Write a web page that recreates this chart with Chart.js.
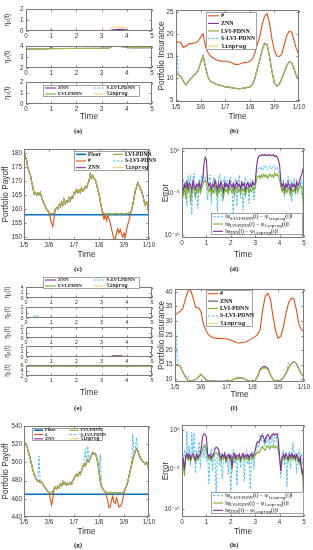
<!DOCTYPE html>
<html><head><meta charset="utf-8">
<script src="https://cdn.jsdelivr.net/npm/chart.js@4.4.1/dist/chart.umd.min.js"></script>
<style>
html,body{margin:0;padding:0;background:#fff;}
#fig{position:relative;width:313px;height:550px;overflow:hidden;background:#fff;}
#fig canvas{position:absolute;}
.cap{position:absolute;font:bold 7px "Liberation Serif",serif;color:#222;transform:translateX(-50%);white-space:nowrap;}
</style></head><body><div id="fig"></div>
<script>
// ---------------- DATA ----------------
const etaXTicks = [0,1,2,3,4,5];
const etaXLabels = ['0','1','2','3','4','5'];
const dateTicks = [0,1,2,3,4,5];
const dateLabels = ['1/5','3/6','1/7','1/8','3/9','1/10'];
const errTicks = [1e-10,1e-5,1];
const errLabels = ['10\u207B\u00B9\u2070','10\u207B\u2075','10\u2070'];

// sampling grids (time positions)
const tStep10 = Array.from({length:51},(_,i)=>i/10);
const tStep20 = Array.from({length:101},(_,i)=>i/20);

// (a) eta panels: [times, values]
const a1Znn_t=[0,0.9,1.0,1.1,3.3,3.45,3.7,3.95,4.05,5], a1Znn_v=[0,0,0.1,0,0,0.12,0.15,0.12,0,0];
const a1Lvi_t=[0,0.02,5], a1Lvi_v=[1.9,0,0];
const a1Slvi_t=[0,0.02,5], a1Slvi_v=[2.0,0,0];
const a1Lin_t=[0,3.3,3.4,3.5,3.8,3.95,4.05,5], a1Lin_v=[0,0,0.3,0.38,0.35,0.3,0,0];
const a2Znn_t=[0,0.9,1.0,1.1,3.0,3.3,3.4,3.7,4.0,4.1,5], a2Znn_v=[3.72,3.76,3.86,3.77,3.8,3.82,3.95,3.98,3.9,3.84,3.85];
const a2Lvi_t=[0,1.0,3.0,3.3,3.4,3.7,4.0,4.1,5], a2Lvi_v=[3.72,3.76,3.8,3.82,3.95,3.97,3.9,3.84,3.85];
const a2Lin_v=[3.72,3.76,3.8,3.82,3.97,3.99,3.92,3.84,3.85];
const a3Zero_t=[0,5], a3Zero_v=[0,0];
const a3Slvi_t=[0,0.02,5], a3Slvi_v=[0.5,0,0];

// (e) eta panels
const e1Lvi_t=[0,0.02,5], e1Lvi_v=[3.5,0,0];
const e1Slvi_t=[0,0.02,5], e1Slvi_v=[4,0,0];
const e2Znn_t=[0,0.9,1.0,1.1,5], e2Znn_v=[0,0,0.2,0,0];
const e2Slvi_t=[0,0.02,0.3,0.35,0.4,0.45,0.5,0.55,5], e2Slvi_v=[1.5,0,0,0.5,0.1,0.6,0.1,0,0];
const e3Slvi_t=[0,0.02,5], e3Slvi_v=[2,0,0];
const e4Znn_t=[0,3.35,3.45,3.8,3.9,5], e4Znn_v=[0,0,0.25,0.25,0,0];
const e4Lin_v=[0,0,0.2,0.2,0,0];
const e4Slvi_t=[0,0.02,2.5,2.55,2.6,3.0,3.05,3.1,4.3,4.35,4.4,5], e4Slvi_v=[1.5,0,0,0.15,0,0,0.12,0,0,0.15,0,0];
const e5Znn_t=[0,0.9,1.0,1.1,5], e5Znn_v=[5.6,5.6,5.75,5.6,5.6];
const e5Flat_t=[0,5], e5Flat_v=[5.6,5.6];

// (b) portfolio insurance
const insB_hash=[18.1,18.2,18.0,16.9,17.2,17.7,17.8,17.9,18.0,18.4,19.2,20.0,17.2,15.8,15.0,14.6,14.2,14.0,13.9,13.8,13.8,13.8,13.6,13.4,13.1,13.1,13.2,13.4,13.5,13.6,13.8,14.3,15.6,17.5,19.3,22.0,24.0,24.6,22.5,18.8,16.3,15.0,14.9,15.4,17.6,19.6,20.6,20.4,18.5,16.5,15.3];
const insB_lvi=[11.2,10.8,10.3,9.3,8.5,9.2,9.9,10.5,11.0,11.7,13.5,15.0,12.5,10.2,9.3,9.0,8.7,8.5,8.4,8.2,8.0,8.0,7.9,7.8,7.7,7.6,7.6,7.7,7.8,7.9,8.0,8.5,9.8,12.0,14.0,16.3,17.9,17.6,15.0,11.5,8.9,8.2,8.6,9.9,11.3,12.8,13.7,13.5,12.0,10.4,9.6];
const insB_slvi=[18.0].concat(insB_lvi.slice(1));

// (f) portfolio insurance
const insF_hash=[32.0,32.7,33.4,34.2,37.5,40.2,40.8,38.0,34.6,34.5,33.5,29.0,26.8,25.2,24.6,24.2,24.0,24.0,24.0,23.9,23.8,23.6,23.3,22.9,22.5,22.4,22.6,22.7,23.0,23.5,24.0,24.6,25.3,27.0,34.0,38.6,39.5,37.5,31.5,26.5,24.0,24.8,28.0,32.5,36.2,37.7,37.8,34.0,29.0,27.0,26.3];
const insF_lvi=[15.0,14.8,14.5,12.5,10.8,9.6,9.4,9.5,9.9,10.6,11.6,10.8,9.8,9.4,9.3,9.3,9.2,9.2,9.2,9.2,9.3,9.4,9.6,10.0,10.3,10.4,10.3,10.0,9.6,9.3,9.2,9.4,11.0,13.0,13.8,13.9,13.3,11.5,9.8,9.3,9.3,9.6,10.5,12.0,13.8,15.3,16.0,15.4,13.5,11.8,10.8];
const insF_znn=[15.0,14.8,14.5,12.5,10.8,9.6,9.4,9.5,9.9,10.6,11.6,10.8,9.8,9.4,9.3,9.3,9.2,9.2,9.2,9.2,9.3,9.4,9.6,10.0,10.3,10.4,10.3,10.0,9.6,9.3,9.2,9.4,11.0,13.4,14.2,14.3,13.7,11.5,9.8,9.3,9.3,9.6,10.5,12.0,13.8,15.3,16.0,15.4,13.5,11.8,10.8];
const insF_slvi=[32.0,14.8,14.5,12.5,10.8,11.2,9.4,9.5,9.9,10.6,11.6,10.8,9.8,9.4,9.3,9.3,9.2,9.2,9.2,9.2,9.3,9.4,9.6,10.0,10.8,10.4,10.9,10.0,9.6,9.3,9.2,9.4,11.0,13.0,13.8,13.9,13.3,11.5,9.8,9.3,9.3,9.6,10.5,12.0,15.6,15.3,16.0,15.4,13.5,11.8,10.8];

// (c) portfolio payoff
const floorC = [158,158], floorT=[0,5];
const payC_lvi=[178.5,179.0,177.5,175.0,173.5,172.5,170.0,168.0,165.5,166.0,
 165.0,165.8,165.2,166.0,164.5,163.0,162.0,161.0,160.0,159.5,
 158.8,158.5,158.4,158.4,158.6,160.0,160.5,160.0,161.5,160.8,
 162.5,161.5,163.5,162.0,163.0,162.5,164.0,163.0,164.5,164.0,
 166.0,165.5,167.0,166.0,166.8,166.0,167.5,166.5,167.0,168.0,
 167.5,169.0,170.0,172.5,171.0,172.0,171.0,170.5,169.0,167.0,
 165.5,163.0,160.5,158.8,158.4,158.3,158.4,158.3,158.5,158.4,
 158.3,158.4,158.3,158.5,158.4,158.3,158.4,158.3,158.5,158.4,
 158.3,158.4,158.5,158.4,158.6,158.8,159.5,161.5,164.0,166.5,
 168.0,169.5,168.5,167.5,166.5,165.0,163.0,161.5,162.5,161.5,158.0];
const payC_hash=[178.5,179.0,177.5,175.0,173.5,172.5,170.0,168.0,165.5,166.0,
 165.0,165.8,165.2,166.0,164.5,163.0,162.0,161.0,160.0,159.5,
 158.8,157.0,155.0,153.8,156.5,160.0,160.5,160.0,161.5,160.8,
 162.5,161.5,163.5,162.0,163.0,162.5,164.0,163.0,164.5,164.0,
 166.0,165.5,167.0,166.0,166.8,166.0,167.5,166.5,167.0,168.0,
 167.5,169.0,170.0,172.5,171.0,172.0,171.0,170.5,169.0,167.0,
 165.5,163.0,160.5,158.0,156.5,158.0,156.0,157.8,156.5,155.0,
 153.0,151.0,149.5,149.0,151.5,153.0,151.5,152.8,151.0,150.0,
 151.5,150.0,152.5,154.5,156.0,158.0,159.5,161.5,164.0,166.5,
 168.0,169.5,168.5,167.5,166.5,165.0,163.0,161.5,162.5,161.5,158.0];
const payC_slvi=[181.5].concat(payC_lvi.slice(1));

// (g) portfolio payoff
const floorG = [465,465];
const payG_lvi=[520,521,519,514,509,504,498,492,487,484,
 481,479,480,478,479,476,474,472,470,468,
 467,466,466,468,471,473,471,474,472,476,
 474,479,476,478,475,477,476,478,476,480,
 482,485,487,485,489,487,491,495,498,496,
 500,503,501,505,508,511,509,510,506,500,
 490,480,474,471,469,468,467,466,467,466,
 467,466,467,466,467,466,467,466,467,467,
 468,471,474,479,485,491,497,503,508,512,
 515,513,509,505,503,501,500,498,500,497,491];
const payG_hash=[520,521,519,514,509,504,498,492,487,484,
 481,479,480,478,479,476,474,472,470,468,
 467,460,453,459,471,473,471,474,472,476,
 474,479,476,478,475,477,476,478,476,480,
 482,485,487,485,489,487,491,495,498,496,
 500,503,501,505,508,511,509,510,506,500,
 490,480,474,471,469,468,463,458,450,451,
 458,463,456,455,461,457,451,452,454,460,
 466,471,474,479,485,491,497,503,508,512,
 515,513,509,505,503,501,500,498,500,497,491];
const payG_slvi=[524,521,519,514,509,504,498,492,487,484,
 481,479,507,478,479,476,474,472,470,468,
 467,466,466,468,471,473,471,474,472,476,
 474,479,476,478,475,477,476,478,476,480,
 482,485,487,485,489,487,491,495,498,515,
 500,518,501,505,508,511,509,510,506,500,
 490,509,474,471,469,468,467,466,467,466,
 467,466,467,466,467,466,467,466,467,467,
 468,471,474,479,485,491,497,531,508,512,
 527,513,509,505,503,501,500,498,500,497,491];

// (d) errors, log10 exponents
const dZnnE=[-4.2,-4.6,-3.9,-4.3,-3.6,-4.4,-3.8,-4.0,-4.7,-3.5,
 -4.1,-4.5,-3.9,-4.2,-3.7,-4.4,-3.9,-3.3,-1.5,-0.7,
 -1.0,-3.6,-4.1,-3.8,-4.5,-3.9,-4.2,-3.4,-4.0,-4.6,
 -3.8,-4.3,-3.6,-4.1,-4.8,-3.7,-4.2,-3.9,-4.4,-3.5,
 -4.0,-4.3,-3.8,-4.5,-4.0,-3.6,-4.2,-3.9,-4.4,-3.7,
 -4.1,-3.8,-4.6,-4.0,-3.7,-4.3,-3.9,-4.2,-3.6,-4.0,
 -3.8,-2.0,-0.9,-0.6,-0.5,-0.5,-0.4,-0.5,-0.4,-0.5,
 -0.4,-0.5,-0.4,-0.5,-0.5,-0.4,-0.6,-0.5,-0.7,-1.0,
 -1.6,-3.6,-4.2,-3.8,-4.5,-3.9,-4.3,-3.7,-4.1,-4.6,
 -3.8,-4.2,-3.9,-4.5,-3.6,-4.1,-3.8,-3.2,-2.8,-2.2,-1.8];
const dLviE=[-4.5,-5.2,-4.2,-5.6,-4.0,-4.8,-4.3,-5.9,-4.9,-4.1,
 -4.6,-5.4,-4.4,-4.8,-4.2,-5.0,-4.5,-4.0,-3.6,-3.4,
 -3.8,-4.4,-4.8,-4.3,-5.1,-4.5,-4.9,-4.0,-4.6,-5.3,
 -4.4,-4.9,-4.2,-4.7,-5.5,-4.3,-4.8,-4.5,-5.0,-4.2,
 -4.6,-4.9,-4.4,-5.2,-4.6,-4.2,-4.8,-4.5,-5.0,-4.3,
 -4.7,-4.4,-5.3,-4.6,-4.3,-4.9,-4.5,-4.8,-4.2,-4.6,
 -4.4,-3.4,-3.0,-2.9,-3.2,-2.8,-3.1,-2.7,-3.0,-2.8,
 -3.2,-2.9,-2.7,-3.0,-2.8,-3.1,-2.6,-2.9,-2.7,-3.0,
 -3.3,-4.2,-4.8,-4.4,-5.1,-4.5,-4.9,-4.3,-4.7,-5.2,
 -4.4,-4.8,-4.5,-5.0,-4.2,-4.7,-4.4,-4.0,-4.3,-5.5,-10.0];
const dSlviE=[-4.0,-3.2,-4.8,-3.5,-6.5,-3.0,-4.2,-2.8,-7.5,-3.6,
 -2.6,-5.5,-3.8,-6.8,-3.3,-4.5,-2.9,-3.7,-2.7,-3.0,
 -4.0,-5.8,-3.4,-2.8,-6.2,-3.9,-3.1,-5.0,-3.6,-7.2,
 -3.3,-2.7,-4.6,-6.0,-3.5,-3.0,-4.3,-3.4,-5.2,-3.8,
 -3.1,-4.5,-7.8,-4.0,-3.2,-6.5,-3.7,-2.8,-5.5,-3.4,
 -7.0,-3.9,-3.1,-4.8,-3.6,-6.2,-3.3,-4.1,-3.5,-5.8,
 -3.6,-2.6,-2.2,-1.9,-2.1,-1.8,-2.3,-1.7,-2.0,-1.8,
 -2.2,-1.9,-1.7,-2.1,-1.8,-2.0,-1.7,-2.2,-1.9,-2.4,
 -2.8,-3.8,-4.6,-3.3,-5.4,-3.7,-4.2,-3.0,-4.9,-3.5,
 -6.0,-3.8,-3.2,-4.4,-3.6,-5.1,-3.4,-4.0,-3.3,-4.7,-3.9];

// (h) errors, log10 exponents
const hZnnE=[-3.2,-3.6,-5.0,-3.3,-3.0,-3.5,-3.1,-3.7,-3.2,-3.0,
 -3.4,-3.8,-3.1,-3.5,-3.2,-3.0,-2.0,-0.8,-0.5,-0.6,
 -0.9,-3.0,-3.4,-3.1,-3.6,-3.2,-3.0,-2.4,-2.2,-2.3,
 -2.5,-3.2,-3.6,-3.1,-3.4,-3.0,-3.8,-3.3,-3.1,-3.5,
 -3.2,-4.8,-3.3,-3.0,-3.6,-3.2,-3.4,-3.1,-3.7,-3.3,
 -3.0,-3.5,-3.2,-3.4,-3.1,-3.6,-3.2,-3.0,-3.4,-3.1,
 -2.6,-1.8,-1.5,-1.6,-1.3,-0.8,-0.7,-1.0,-1.6,-0.9,
 -0.6,-0.7,-1.2,-0.8,-0.6,-0.5,-0.7,-0.6,-0.5,-1.4,
 -3.4,-5.2,-3.6,-3.1,-3.5,-3.0,-3.3,-3.7,-3.1,-3.4,
 -3.0,-3.5,-3.2,-3.6,-3.1,-3.4,-4.0,-3.5,-5.0,-5.6,-3.8];
const hLviE=[-3.5,-4.0,-5.8,-3.6,-3.4,-3.8,-3.4,-4.0,-3.5,-3.3,
 -3.7,-4.1,-3.4,-3.8,-3.5,-3.3,-3.0,-2.3,-2.0,-2.1,
 -2.4,-3.4,-3.7,-3.4,-3.9,-3.5,-3.3,-3.0,-2.9,-3.0,
 -3.1,-3.5,-3.9,-3.4,-3.7,-3.3,-4.1,-3.6,-3.4,-3.8,
 -3.5,-5.0,-3.6,-3.3,-3.9,-3.5,-3.7,-3.4,-4.0,-3.6,
 -3.3,-3.8,-3.5,-3.7,-3.4,-3.9,-3.5,-3.3,-3.7,-3.4,
 -3.2,-3.0,-2.8,-2.9,-2.7,-2.3,-2.1,-2.4,-2.6,-2.2,
 -2.0,-2.2,-2.4,-2.1,-2.2,-2.0,-2.3,-2.1,-2.2,-2.6,
 -3.6,-5.0,-3.9,-3.4,-3.8,-3.3,-3.6,-4.0,-3.4,-3.7,
 -3.3,-3.8,-3.5,-3.9,-3.4,-3.7,-4.3,-3.8,-5.3,-6.0,-10.0];
const hSlviE=[-3.0,-4.2,-2.5,-3.8,-0.2,-3.5,-2.0,-4.5,-0.3,-3.2,
 -0.4,-5.5,-2.6,-3.9,-1.5,-4.8,-3.0,-2.2,-3.6,-1.8,
 -4.0,-2.9,-6.8,-3.3,-2.4,-5.2,-3.1,-3.8,-8.0,-3.4,
 -2.7,-4.6,-3.0,-6.2,-3.5,-2.8,-4.1,-3.2,-5.6,-3.0,
 -8.2,-3.7,-2.5,-4.3,-3.1,-7.0,-3.6,-2.9,-4.8,-3.3,
 -3.0,-6.5,-3.5,-2.6,-4.4,-3.2,-7.5,-3.4,-2.8,-5.0,
 -3.1,-2.4,-1.9,-2.2,-0.6,-1.4,-0.4,-1.8,-2.0,-0.8,
 -1.6,-1.2,-2.1,-1.5,-0.7,-1.9,-1.3,-0.5,-1.7,-2.3,
 -3.5,-6.0,-3.2,-2.6,-4.5,-3.0,-7.2,-3.3,-2.7,-4.9,
 -3.1,-1.6,-3.6,-2.9,-5.4,-3.2,-2.5,-3.9,-3.0,-4.4,-3.3];

// ---------------- RENDERING ----------------
const SANS='"Liberation Sans", Arial, "DejaVu Sans", sans-serif';
const SERIF='"Liberation Serif", "Times New Roman", serif';
const MONO='"Liberation Mono", "DejaVu Sans Mono", monospace';
const INK='#333';
const fig=document.getElementById('fig');
const STY={
 '#':{borderColor:'#D95319',borderWidth:1.1},
 'ZNN':{borderColor:'#7E2F8E',borderWidth:1.1},
 'LVI-PDNN':{borderColor:'#77AC30',borderWidth:1.1},
 'S-LVI-PDNN':{borderColor:'#4DBEEE',borderWidth:1,borderDash:[2.5,1.5]},
 'linprog':{borderColor:'rgba(237,177,32,0.65)',borderWidth:1},
 'Floor':{borderColor:'#0072BD',borderWidth:1.6}
};
function pts(ts,vs){return vs.map((v,i)=>({x:ts[i],y:v}));}
function ser(key,ts,vs,seg){
  return Object.assign({label:key,data:pts(ts,vs),pointRadius:0,fill:false,tension:0,
    seg:seg||(key==='linprog'?[{t:'linprog',mono:true}]:[{t:key}])},STY[key]);
}
const pow10=a=>a.map(e=>Math.pow(10,e));
function errSeg(name){return [{t:'\u2016\u03C6'},{t:name,sub:true},{t:'(t) \u2212 \u03C6'},{t:'linprog',sub:true,mono:true},{t:'(t)\u2016'}];}

const boxPlugin={id:'mbox',afterDatasetsDraw(ch){
  const ctx=ch.ctx,a=ch.chartArea;
  const L=Math.round(a.left)+0.5,R=Math.round(a.right)-0.5,T=Math.round(a.top)+0.5,B=Math.round(a.bottom)-0.5;
  ctx.save();ctx.strokeStyle='#7a7a7a';ctx.lineWidth=1;ctx.setLineDash([]);
  ctx.strokeRect(L,T,R-L,B-T);
  ctx.beginPath();
  const xs=ch.scales.x,ys=ch.scales.y;
  xs.ticks.forEach(t=>{const p=Math.round(xs.getPixelForValue(t.value))+0.5;ctx.moveTo(p,B);ctx.lineTo(p,B-2);ctx.moveTo(p,T);ctx.lineTo(p,T+2);});
  ys.ticks.forEach(t=>{const p=Math.round(ys.getPixelForValue(t.value))+0.5;ctx.moveTo(L,p);ctx.lineTo(L+2,p);ctx.moveTo(R,p);ctx.lineTo(R-2,p);});
  ctx.stroke();ctx.restore();
}};
const legPlugin={id:'mleg',afterDraw(ch,args,o){
  if(!o||o.w===undefined)return;
  const ctx=ch.ctx,x=o.x-o.ox,y=o.y-o.oy;
  ctx.save();
  ctx.fillStyle='#fff';ctx.fillRect(x,y,o.w,o.h);
  ctx.strokeStyle='#8c8c8c';ctx.lineWidth=0.8;ctx.strokeRect(x+0.5,y+0.5,o.w-1,o.h-1);
  const items=ch.data.datasets.filter(d=>d.label);
  const rows=o.rows,cols=Math.ceil(items.length/rows),cw=o.w/cols,rh=o.h/rows;
  items.forEach((d,i)=>{
    const ci=Math.floor(i/rows),r=i%rows;
    const ix=x+ci*cw+(o.pad||2),iy=y+(r+0.5)*rh;
    ctx.strokeStyle=d.borderColor;ctx.lineWidth=d.borderWidth;ctx.setLineDash(d.borderDash||[]);
    ctx.beginPath();ctx.moveTo(ix,iy);ctx.lineTo(ix+o.len,iy);ctx.stroke();ctx.setLineDash([]);
    let tx=ix+o.len+2;
    ctx.fillStyle='#111';ctx.textBaseline='middle';ctx.textAlign='left';
    d.seg.forEach(s=>{
      const fs=s.sub?o.fs*0.72:o.fs;
      ctx.font=(o.bold?'bold ':'')+fs+'px '+(s.mono?MONO:SERIF);
      ctx.fillText(s.t,tx,iy+(s.sub?fs*0.45:0));
      tx+=ctx.measureText(s.t).width;
    });
  });
  ctx.restore();
}};

function mk(c){
  const W=c.cr-c.cl,H=c.cb-c.ct;
  const cv=document.createElement('canvas');
  cv.width=W;cv.height=H;
  Object.assign(cv.style,{left:c.cl+'px',top:c.ct+'px',width:W+'px',height:H+'px'});
  fig.appendChild(cv);
  const lw=c.L-c.cl,bh=c.cb-c.B,pt=c.T-c.ct,pr=c.cr-c.R;
  c.ds.forEach((d,i)=>{d.order=c.ds.length-i;});
  const tf={family:SANS,size:c.tfs||6.3};
  const zeroPad=s=>{s.paddingLeft=0;s.paddingRight=0;s.paddingTop=0;s.paddingBottom=0;};
  new Chart(cv,{type:'line',data:{datasets:c.ds},options:{
    responsive:false,animation:false,devicePixelRatio:1,
    layout:{padding:{left:0,top:pt,right:pr,bottom:0}},
    plugins:{legend:{display:false},tooltip:{enabled:false},
      mleg:c.leg?Object.assign({ox:c.cl,oy:c.ct},c.leg):false},
    scales:{
      x:{type:'linear',min:0,max:5,
        grid:{display:false,drawTicks:false},border:{display:false},
        ticks:{font:tf,color:INK,padding:c.xpad===undefined?1.5:c.xpad,maxRotation:0,autoSkip:false,callback:(v,i)=>c.xl[i]},
        afterBuildTicks:s=>{s.ticks=c.xt.map(v=>({value:v}));},
        afterFit:s=>{s.height=bh;zeroPad(s);},
        title:{display:!!c.xtitle,text:c.xtitle||'',font:{family:SANS,size:8.3},color:INK,padding:0}},
      y:{type:c.log?'logarithmic':'linear',min:c.ymin,max:c.ymax,
        grid:{display:false,drawTicks:false},border:{display:false},
        ticks:{font:tf,color:INK,padding:c.ypad===undefined?2.5:c.ypad,autoSkip:false,callback:(v,i)=>c.yl?c.yl[i]:String(v)},
        afterBuildTicks:s=>{s.ticks=c.yt.map(v=>({value:v}));},
        afterFit:s=>{s.width=lw;zeroPad(s);},
        title:{display:true,text:c.ytitle,font:{family:SANS,size:c.ytfs||8.3},color:INK,padding:{top:c.ytp||0,bottom:0}}}
    }},plugins:[boxPlugin,legPlugin]});
}
function cap(txt,x,y){const d=document.createElement('div');d.className='cap';d.textContent=txt;d.style.left=x+'px';d.style.top=(y-4)+'px';fig.appendChild(d);}

// ----- (a) -----
const etaCommon={cl:0,cr:157,L:26,R:152,xt:etaXTicks,xl:etaXLabels,tfs:6.3,ytfs:7,ytp:3};
mk(Object.assign({},etaCommon,{ct:3,cb:38,T:9,B:31,ymin:0,ymax:2,yt:[0,1,2],ytitle:'\u03B7\u2081(t)',
  ds:[ser('ZNN',a1Znn_t,a1Znn_v),ser('LVI-PDNN',a1Lvi_t,a1Lvi_v),ser('S-LVI-PDNN',a1Slvi_t,a1Slvi_v),ser('linprog',a1Lin_t,a1Lin_v)]}));
mk(Object.assign({},etaCommon,{ct:40,cb:75,T:46,B:68,ymin:2,ymax:4,yt:[2,3,4],ytitle:'\u03B7\u2082(t)',
  ds:[ser('ZNN',a2Znn_t,a2Znn_v),ser('LVI-PDNN',a2Lvi_t,a2Lvi_v),ser('S-LVI-PDNN',a2Lvi_t,a2Lvi_v),ser('linprog',a2Lvi_t,a2Lin_v)]}));
mk(Object.assign({},etaCommon,{ct:76,cb:122,T:82,B:104,ymin:0,ymax:2,yt:[0,1,2],ytitle:'\u03B7\u2083(t)',xtitle:'Time',
  ds:[ser('ZNN',a3Zero_t,a3Zero_v),ser('LVI-PDNN',a3Zero_t,a3Zero_v),ser('S-LVI-PDNN',a3Slvi_t,a3Slvi_v),ser('linprog',a3Zero_t,a3Zero_v)],
  leg:{x:43,y:85,w:97,h:12,rows:2,len:11,fs:5,bold:true}}));
cap('(a)',78,131);

// ----- (b) -----
mk({cl:157,cr:313,ct:4,cb:122,L:176,R:299,T:10,B:102,xt:dateTicks,xl:dateLabels,
  ymin:4.6,ymax:25.4,yt:[5,10,15,20,25],ytitle:'Portfolio Insurance',xtitle:'Time',ytp:0,
  ds:[ser('#',tStep10,insB_hash),ser('ZNN',tStep10,insB_lvi),ser('LVI-PDNN',tStep10,insB_lvi),ser('S-LVI-PDNN',tStep10,insB_slvi),ser('linprog',tStep10,insB_lvi)],
  leg:{x:206,y:12,w:51,h:38,rows:5,len:11,fs:6,bold:true}});
cap('(b)',234,131);

// ----- (c) -----
mk({cl:0,cr:157,ct:142,cb:260,L:24,R:149,T:149,B:240,xt:dateTicks,xl:dateLabels,
  ymin:149,ymax:181.5,yt:[150,155,160,165,170,175,180],ytitle:'Portfolio Payoff',xtitle:'Time',ytp:1,ypad:2,
  ds:[ser('Floor',floorT,floorC),ser('#',tStep20,payC_hash),ser('ZNN',tStep20,payC_lvi),ser('LVI-PDNN',tStep20,payC_lvi),ser('S-LVI-PDNN',tStep20,payC_slvi),ser('linprog',tStep20,payC_lvi)],
  leg:{x:74,y:151,w:74,h:20,rows:3,len:10,fs:5.5,bold:true}});
cap('(c)',78,269);

// ----- (d) -----
mk({cl:157,cr:313,ct:142,cb:260,L:182,R:304,T:148,B:238,xt:etaXTicks,xl:etaXLabels,log:true,
  ymin:Math.pow(10,-10.3),ymax:Math.pow(10,0.4),yt:errTicks,yl:errLabels,ytitle:'Error',xtitle:'Time',ytp:4,
  ds:[ser('S-LVI-PDNN',tStep20,pow10(dSlviE),errSeg('S-LVI-PDNN')),ser('LVI-PDNN',tStep20,pow10(dLviE),errSeg('LVI-PDNN')),ser('ZNN',tStep20,pow10(dZnnE),errSeg('ZNN'))],
  leg:{x:211,y:213,w:92,h:22,rows:3,len:10,fs:5.8}});
cap('(d)',234,269);

// ----- (e) -----
const eC=Object.assign({},etaCommon,{tfs:5.5,ytfs:6.5,ytp:3});
mk(Object.assign({},eC,{ct:276,cb:304,T:287,B:298,ymin:0,ymax:4,yt:[0,2,4],ytitle:'\u03B7\u2081(t)',
  ds:[ser('ZNN',a3Zero_t,a3Zero_v),ser('LVI-PDNN',e1Lvi_t,e1Lvi_v),ser('S-LVI-PDNN',e1Slvi_t,e1Slvi_v),ser('linprog',a3Zero_t,a3Zero_v)],
  leg:{x:43,y:277,w:97,h:12,rows:2,len:11,fs:5,bold:true}}));
mk(Object.assign({},eC,{ct:303,cb:324,T:307,B:318,ymin:0,ymax:2,yt:[0,1,2],ytitle:'\u03B7\u2082(t)',
  ds:[ser('ZNN',e2Znn_t,e2Znn_v),ser('LVI-PDNN',a3Zero_t,a3Zero_v),ser('S-LVI-PDNN',e2Slvi_t,e2Slvi_v),ser('linprog',a3Zero_t,a3Zero_v)]}));
mk(Object.assign({},eC,{ct:323,cb:344,T:327,B:338,ymin:0,ymax:2,yt:[0,1,2],ytitle:'\u03B7\u2083(t)',
  ds:[ser('ZNN',a3Zero_t,a3Zero_v),ser('LVI-PDNN',a3Zero_t,a3Zero_v),ser('S-LVI-PDNN',e3Slvi_t,e3Slvi_v),ser('linprog',a3Zero_t,a3Zero_v)]}));
mk(Object.assign({},eC,{ct:342,cb:363,T:346,B:357,ymin:0,ymax:2,yt:[0,1,2],ytitle:'\u03B7\u2084(t)',
  ds:[ser('ZNN',e4Znn_t,e4Znn_v),ser('LVI-PDNN',a3Zero_t,a3Zero_v),ser('S-LVI-PDNN',e4Slvi_t,e4Slvi_v),ser('linprog',e4Znn_t,e4Lin_v)]}));
mk(Object.assign({},eC,{ct:361,cb:398,T:365,B:376,ymin:2,ymax:6,yt:[2,4,6],ytitle:'\u03B7\u2085(t)',xtitle:'Time',
  ds:[ser('ZNN',e5Znn_t,e5Znn_v),ser('LVI-PDNN',e5Flat_t,e5Flat_v),ser('S-LVI-PDNN',e5Flat_t,e5Flat_v),ser('linprog',e5Flat_t,e5Flat_v)]}));
cap('(e)',78,408);

// ----- (f) -----
mk({cl:157,cr:313,ct:283,cb:400,L:175,R:304,T:289,B:382,xt:dateTicks,xl:dateLabels,
  ymin:9,ymax:41,yt:[10,15,20,25,30,35,40],ytitle:'Portfolio Insurance',xtitle:'Time',ytp:0,
  ds:[ser('#',tStep10,insF_hash),ser('ZNN',tStep10,insF_znn),ser('LVI-PDNN',tStep10,insF_lvi),ser('S-LVI-PDNN',tStep10,insF_slvi),ser('linprog',tStep10,insF_lvi)],
  leg:{x:206,y:290,w:47,h:37,rows:5,len:10,fs:6,bold:true}});
cap('(f)',234,408);

// ----- (g) -----
mk({cl:0,cr:157,ct:420,cb:537,L:24,R:149,T:426,B:517,xt:dateTicks,xl:dateLabels,
  ymin:440,ymax:540,yt:[440,460,480,500,520,540],ytitle:'Portfolio Payoff',xtitle:'Time',ytp:1,ypad:2,
  ds:[ser('Floor',floorT,floorG),ser('#',tStep20,payG_hash),ser('ZNN',tStep20,payG_lvi),ser('LVI-PDNN',tStep20,payG_lvi),ser('S-LVI-PDNN',tStep20,payG_slvi),ser('linprog',tStep20,payG_lvi)],
  leg:{x:32,y:428,w:71,h:13,rows:3,len:9,fs:4.5,bold:true}});
cap('(g)',78,545);

// ----- (h) -----
mk({cl:157,cr:313,ct:419,cb:537,L:182,R:304,T:425,B:517,xt:etaXTicks,xl:etaXLabels,log:true,
  ymin:Math.pow(10,-11),ymax:Math.pow(10,0.6),yt:errTicks,yl:errLabels,ytitle:'Error',xtitle:'Time',ytp:4,
  ds:[ser('S-LVI-PDNN',tStep20,pow10(hSlviE),errSeg('S-LVI-PDNN')),ser('LVI-PDNN',tStep20,pow10(hLviE),errSeg('LVI-PDNN')),ser('ZNN',tStep20,pow10(hZnnE),errSeg('ZNN'))],
  leg:{x:211,y:492,w:93,h:22,rows:3,len:10,fs:5.8}});
cap('(h)',234,545);
</script></body></html>
